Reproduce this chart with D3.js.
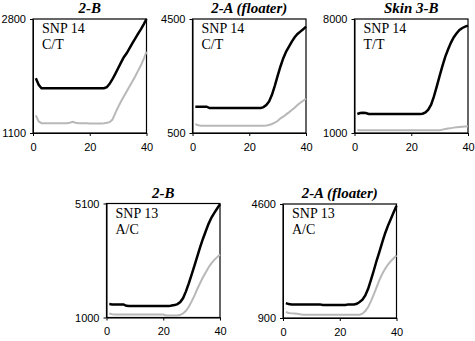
<!DOCTYPE html>
<html>
<head>
<meta charset="utf-8">
<script src="https://cdn.jsdelivr.net/npm/d3@7"></script>
<style>
  body { margin: 0; background: #fff; }
  .tick text { font-family: "Liberation Sans", Arial, sans-serif; font-size: 11px; }
</style>
</head>
<body>
<div id="chart-area"></div>
<script>
// cycles 1..40
var cycles = d3.range(1, 41);

var xTicks = [0, 20, 40];

// SNP 14, 2-B
var snp14_2B_black = [1917,1818,1768,1768,1768,1768,1768,1768,1768,1768,1768,1768,1768,1768,1768,1768,1768,1768,1768,1768,1768,1768,1768,1768,1768,1783,1833,1902,1982,2066,2150,2230,2289,2363,2438,2507,2577,2646,2720,2800];
var snp14_2B_gray = [1362,1272,1247,1247,1247,1247,1247,1247,1247,1247,1247,1247,1252,1267,1252,1247,1247,1247,1245,1240,1240,1240,1240,1242,1245,1252,1262,1300,1396,1486,1570,1644,1719,1793,1868,1942,2026,2106,2200,2314];

// SNP 14, 2-A (floater)
var snp14_2A_black = [1422,1422,1422,1422,1422,1375,1375,1375,1375,1375,1375,1375,1375,1375,1375,1375,1375,1375,1375,1375,1375,1375,1375,1375,1410,1480,1608,1842,2156,2506,2833,3124,3357,3532,3707,3859,3975,4057,4139,4232];
var snp14_2A_gray = [816,769,757,757,757,757,757,757,757,757,757,757,757,757,757,757,757,757,757,757,757,757,757,757,757,765,780,815,862,920,1013,1072,1153,1223,1305,1387,1480,1562,1632,1702];

// SNP 14, Skin 3-B
var snp14_3B_black = [2166,2227,2247,2227,2166,2166,2166,2166,2166,2166,2166,2166,2166,2166,2166,2166,2166,2166,2166,2166,2166,2166,2166,2186,2268,2431,2737,3247,3859,4512,5124,5695,6144,6552,6878,7123,7327,7449,7531,7592];
var snp14_3B_gray = [1188,1167,1167,1167,1167,1167,1167,1167,1167,1167,1167,1167,1167,1167,1167,1167,1167,1167,1167,1167,1167,1167,1167,1167,1167,1167,1167,1167,1167,1175,1208,1240,1270,1300,1330,1350,1371,1385,1400,1412];

// SNP 13, 2-B
var snp13_2B_black = [1482,1470,1470,1470,1470,1470,1422,1410,1410,1410,1410,1410,1410,1410,1410,1410,1410,1410,1410,1410,1410,1410,1434,1446,1482,1555,1699,1940,2230,2544,2869,3195,3532,3834,4111,4377,4594,4763,4920,5076];
var snp13_2B_gray = [1144,1120,1108,1108,1108,1108,1108,1108,1108,1108,1108,1108,1108,1108,1108,1108,1108,1108,1108,1108,1072,1072,1072,1072,1072,1096,1144,1241,1386,1579,1784,2025,2242,2447,2628,2809,2953,3074,3171,3267];

// SNP 13, 2-A (floater)
var snp13_2A_black = [1385,1352,1342,1342,1342,1342,1342,1342,1342,1342,1342,1342,1342,1320,1320,1320,1320,1320,1320,1320,1320,1320,1342,1342,1342,1363,1417,1493,1633,1849,2140,2442,2766,3057,3360,3651,3899,4115,4330,4546];
var snp13_2A_gray = [1093,1061,1050,1045,1039,1020,1007,1007,1007,1007,1007,1007,1007,1007,1007,1007,1007,1007,1007,1007,1007,1007,1007,1007,1007,1007,1007,1039,1126,1255,1449,1665,1902,2140,2334,2496,2636,2744,2841,2927];

// per-panel labels and y ranges
var titles = ["2-B", "2-A (floater)", "Skin 3-B", "2-B", "2-A (floater)"];
var snpLabels = ["SNP 14", "SNP 14", "SNP 14", "SNP 13", "SNP 13"];
var genotypes = ["C/T", "C/T", "T/T", "A/C", "A/C"];
var yRanges = [[1100, 2800], [500, 4500], [1000, 8000], [1000, 5100], [900, 4600]];
var blackSeries = [snp14_2B_black, snp14_2A_black, snp14_3B_black, snp13_2B_black, snp13_2A_black];
var graySeries = [snp14_2B_gray, snp14_2A_gray, snp14_3B_gray, snp13_2B_gray, snp13_2A_gray];

// panel placement (left, top) of each plot box
var boxes = [
    { left: 33, top: 19 },
    { left: 192.5, top: 19 },
    { left: 354.5, top: 19 },
    { left: 106.5, top: 203.5 },
    { left: 283, top: 204 }
];
var width = 113.5, height = 114;

var svg = d3.select("#chart-area")
    .append("svg")
        .attr("width", 475)
        .attr("height", 341);

titles.forEach(function(title, i) {
    var g = svg.append("g")
        .attr("transform", "translate(" + boxes[i].left + "," + boxes[i].top + ")");

    var x = d3.scaleLinear().domain([0, 40]).range([0, width]);
    var y = d3.scaleLinear().domain(yRanges[i]).range([height, 0]);

    // X Axis
    var xAxisCall = d3.axisBottom(x)
        .tickValues(xTicks)
        .tickSize(3)
        .tickPadding(7)
        .tickSizeOuter(0);
    g.append("g")
        .attr("transform", "translate(0," + height + ")")
        .call(xAxisCall);

    // Y Axis
    var yAxisCall = d3.axisLeft(y)
        .tickValues(yRanges[i])
        .tickSize(3)
        .tickPadding(4)
        .tickSizeOuter(0)
        .tickFormat(d3.format("d"));
    g.append("g")
        .call(yAxisCall);

    g.selectAll(".domain").attr("stroke", "#000");

    // box
    g.append("rect")
        .attr("width", width)
        .attr("height", height)
        .attr("fill", "none")
        .attr("stroke", "#000")
        .attr("stroke-width", 1.2);

    var line = d3.line()
        .x(function(d, j) { return x(cycles[j]); })
        .y(function(d) { return y(d); });

    g.append("path")
        .datum(graySeries[i])
        .attr("d", line)
        .attr("fill", "none")
        .attr("stroke", "#b8b8b8")
        .attr("stroke-width", 2);

    g.append("path")
        .datum(blackSeries[i])
        .attr("d", line)
        .attr("fill", "none")
        .attr("stroke", "#000")
        .attr("stroke-width", 2.5);

    // title
    g.append("text")
        .attr("x", width / 2)
        .attr("y", -6)
        .attr("text-anchor", "middle")
        .attr("font-family", "'Liberation Serif', 'Times New Roman', serif")
        .attr("font-weight", "bold")
        .attr("font-style", "italic")
        .attr("font-size", "15px")
        .text(title);

    // SNP / genotype labels
    g.append("text")
        .attr("x", 9)
        .attr("y", 14)
        .attr("font-family", "'Liberation Serif', 'Times New Roman', serif")
        .attr("font-size", "14px")
        .text(snpLabels[i]);
    g.append("text")
        .attr("x", 9)
        .attr("y", 30)
        .attr("font-family", "'Liberation Serif', 'Times New Roman', serif")
        .attr("font-size", "14px")
        .text(genotypes[i]);
});
</script>
</body>
</html>
